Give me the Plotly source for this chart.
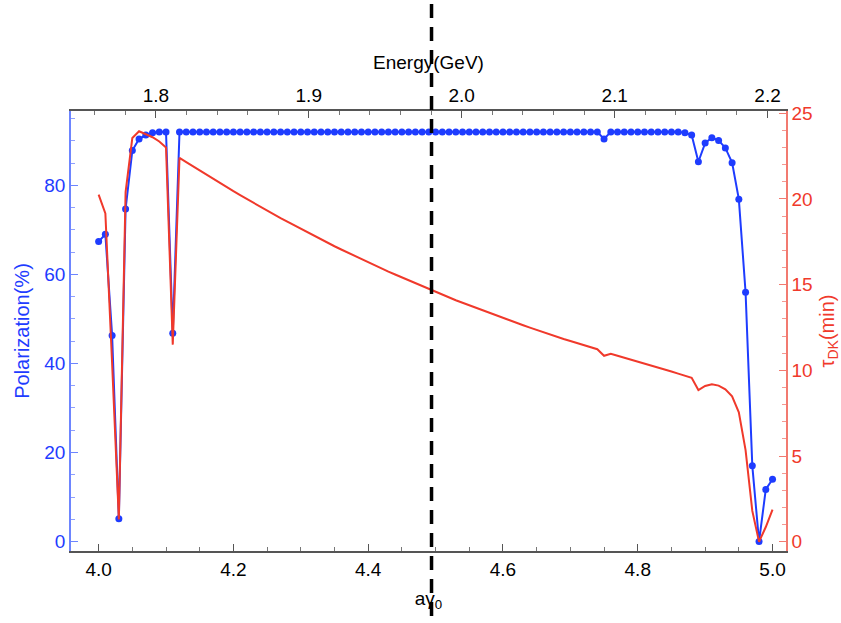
import plotly.graph_objects as go

# aγ0 values (bottom axis)
a_gamma = [
    4.00, 4.01, 4.02, 4.03, 4.04, 4.05, 4.06, 4.07, 4.08, 4.09,
    4.10, 4.11, 4.12, 4.13, 4.14, 4.15, 4.16, 4.17, 4.18, 4.19,
    4.20, 4.21, 4.22, 4.23, 4.24, 4.25, 4.26, 4.27, 4.28, 4.29,
    4.30, 4.31, 4.32, 4.33, 4.34, 4.35, 4.36, 4.37, 4.38, 4.39,
    4.40, 4.41, 4.42, 4.43, 4.44, 4.45, 4.46, 4.47, 4.48, 4.49,
    4.50, 4.51, 4.52, 4.53, 4.54, 4.55, 4.56, 4.57, 4.58, 4.59,
    4.60, 4.61, 4.62, 4.63, 4.64, 4.65, 4.66, 4.67, 4.68, 4.69,
    4.70, 4.71, 4.72, 4.73, 4.74, 4.75, 4.76, 4.77, 4.78, 4.79,
    4.80, 4.81, 4.82, 4.83, 4.84, 4.85, 4.86, 4.87, 4.88, 4.89,
    4.90, 4.91, 4.92, 4.93, 4.94, 4.95, 4.96, 4.97, 4.98, 4.99,
    5.00,
]

# Polarization (%) – left axis, blue
polarization = [
    67.4, 69.0, 46.3, 5.1, 74.7, 87.8, 90.4, 91.3, 91.8, 92.0,
    92.0, 46.8, 92.0, 92.0, 92.0, 92.0, 92.0, 92.0, 92.0, 92.0,
    92.0, 92.0, 92.0, 92.0, 92.0, 92.0, 92.0, 92.0, 92.0, 92.0,
    92.0, 92.0, 92.0, 92.0, 92.0, 92.0, 92.0, 92.0, 92.0, 92.0,
    92.0, 92.0, 92.0, 92.0, 92.0, 92.0, 92.0, 92.0, 92.0, 92.0,
    92.0, 92.0, 92.0, 92.0, 92.0, 92.0, 92.0, 92.0, 92.0, 92.0,
    92.0, 92.0, 92.0, 92.0, 92.0, 92.0, 92.0, 92.0, 92.0, 92.0,
    92.0, 92.0, 92.0, 92.0, 92.0, 90.4, 92.0, 92.0, 92.0, 92.0,
    92.0, 92.0, 92.0, 92.0, 92.0, 92.0, 92.0, 91.8, 91.3, 85.3,
    89.5, 90.7, 90.1, 88.4, 85.1, 76.9, 56.0, 17.0, 0.0, 11.7,
    14.0,
]

# Depolarization time tau_DK (min) – right axis, red
tau_dk = [
    20.25, 19.15, 10.4, 1.3, 20.4, 23.55, 23.95, 23.75, 23.6, 23.35,
    23.0, 11.5, 22.4, 22.15, 21.9, 21.65, 21.41, 21.17, 20.93, 20.69,
    20.45, 20.22, 19.99, 19.76, 19.54, 19.32, 19.1, 18.88, 18.67, 18.46,
    18.25, 18.04, 17.84, 17.64, 17.44, 17.24, 17.05, 16.86, 16.67, 16.48,
    16.3, 16.12, 15.94, 15.76, 15.59, 15.42, 15.25, 15.08, 14.91, 14.74,
    14.57, 14.41, 14.25, 14.09, 13.94, 13.79, 13.64, 13.49, 13.34, 13.19,
    13.05, 12.91, 12.77, 12.63, 12.49, 12.35, 12.22, 12.09, 11.96, 11.83,
    11.71, 11.59, 11.47, 11.35, 11.23, 10.85, 10.97, 10.85, 10.74, 10.62,
    10.5, 10.39, 10.27, 10.16, 10.04, 9.93, 9.81, 9.69, 9.56, 8.85,
    9.09, 9.19, 9.11, 8.89, 8.48, 7.55, 5.35, 1.8, 0.0, 0.86,
    1.87,
]

marker_a_gamma = 4.494          # dashed vertical reference line
GEV_PER_A_GAMMA = 0.440649      # E = aγ * 0.440649 GeV

X_RANGE = [3.959, 5.020]
E_RANGE = [X_RANGE[0] * GEV_PER_A_GAMMA, X_RANGE[1] * GEV_PER_A_GAMMA]

BLUE = "#1e3cff"
RED = "#f0392b"
FONT = "Liberation Sans, Arial, Helvetica, sans-serif"

fig = go.Figure()
fig.add_trace(go.Scatter(
    x=a_gamma, y=polarization, mode="lines+markers",
    line=dict(color=BLUE, width=2), marker=dict(size=7, color=BLUE),
    xaxis="x", yaxis="y", showlegend=False, hoverinfo="skip"))
fig.add_trace(go.Scatter(
    x=a_gamma, y=tau_dk, mode="lines",
    line=dict(color=RED, width=2),
    xaxis="x", yaxis="y2", showlegend=False, hoverinfo="skip"))
# invisible trace so the top energy axis is drawn
fig.add_trace(go.Scatter(
    x=E_RANGE, y=[50, 50], mode="markers", marker=dict(opacity=0),
    xaxis="x2", yaxis="y", showlegend=False, hoverinfo="skip"))

fig.add_shape(type="line", xref="x", yref="paper",
              x0=marker_a_gamma, x1=marker_a_gamma, y0=-0.2, y1=1.3,
              line=dict(color="black", width=3.5, dash="14px,9px"), layer="above")

tickfont = dict(family=FONT, size=19, color="black")
fig.update_layout(
    width=841, height=623,
    margin=dict(l=71, r=55, t=111, b=72, autoexpand=False),
    paper_bgcolor="white", plot_bgcolor="white",
    font=dict(family=FONT, size=19, color="black"),
    xaxis=dict(
        automargin=False,
        range=X_RANGE, tick0=4.0, dtick=0.2, tickformat=".1f",
        ticks="inside", ticklen=7, tickwidth=1, tickcolor="#555",
        minor=dict(tick0=4.0, dtick=0.05, ticks="inside", ticklen=4, tickcolor="#777"),
        showline=True, linecolor="#555", linewidth=1.5,
        showgrid=False, zeroline=False, tickfont=tickfont,
        title=dict(text="aγ<sub>0</sub>", font=dict(family=FONT, size=19, color="black"), standoff=13),
    ),
    xaxis2=dict(
        automargin=False,
        overlaying="x", side="top", range=E_RANGE, tick0=1.8, dtick=0.1, tickformat=".1f",
        ticks="inside", ticklen=7, tickwidth=1, tickcolor="#555",
        minor=dict(tick0=1.8, dtick=0.02, ticks="inside", ticklen=4, tickcolor="#777"),
        showline=True, linecolor="#555", linewidth=1.5,
        showgrid=False, zeroline=False, tickfont=tickfont,
        title=dict(text="Energy(GeV)", font=dict(family=FONT, size=19, color="black"), standoff=10),
    ),
    yaxis=dict(
        automargin=False,
        range=[-2.13, 96.7], tick0=0, dtick=20,
        ticks="inside", ticklen=7, tickwidth=1, tickcolor="#6d85ff",
        minor=dict(tick0=0, dtick=5, ticks="inside", ticklen=4, tickcolor="#8fa0ff"),
        showline=True, linecolor="#6d85ff", linewidth=1.5,
        showgrid=False, zeroline=False,
        tickfont=dict(family=FONT, size=19, color=BLUE),
        title=dict(text="Polarization(%)", font=dict(family=FONT, size=20, color=BLUE), standoff=9),
    ),
    yaxis2=dict(
        automargin=False,
        overlaying="y", side="right", range=[-0.54, 25.13], tick0=0, dtick=5,
        ticks="inside", ticklen=7, tickwidth=1, tickcolor="#f27a70",
        minor=dict(tick0=0, dtick=1, ticks="inside", ticklen=4, tickcolor="#f49a92"),
        showline=True, linecolor="#f27a70", linewidth=1.5,
        showgrid=False, zeroline=False,
        tickfont=dict(family=FONT, size=19, color=RED),
        title=dict(text="τ<sub>DK</sub>(min)", font=dict(family=FONT, size=20, color=RED), standoff=12),
    ),
)

fig.write_html("out.html", config={"displayModeBar": False},
               post_script="document.body.style.margin='0';")
